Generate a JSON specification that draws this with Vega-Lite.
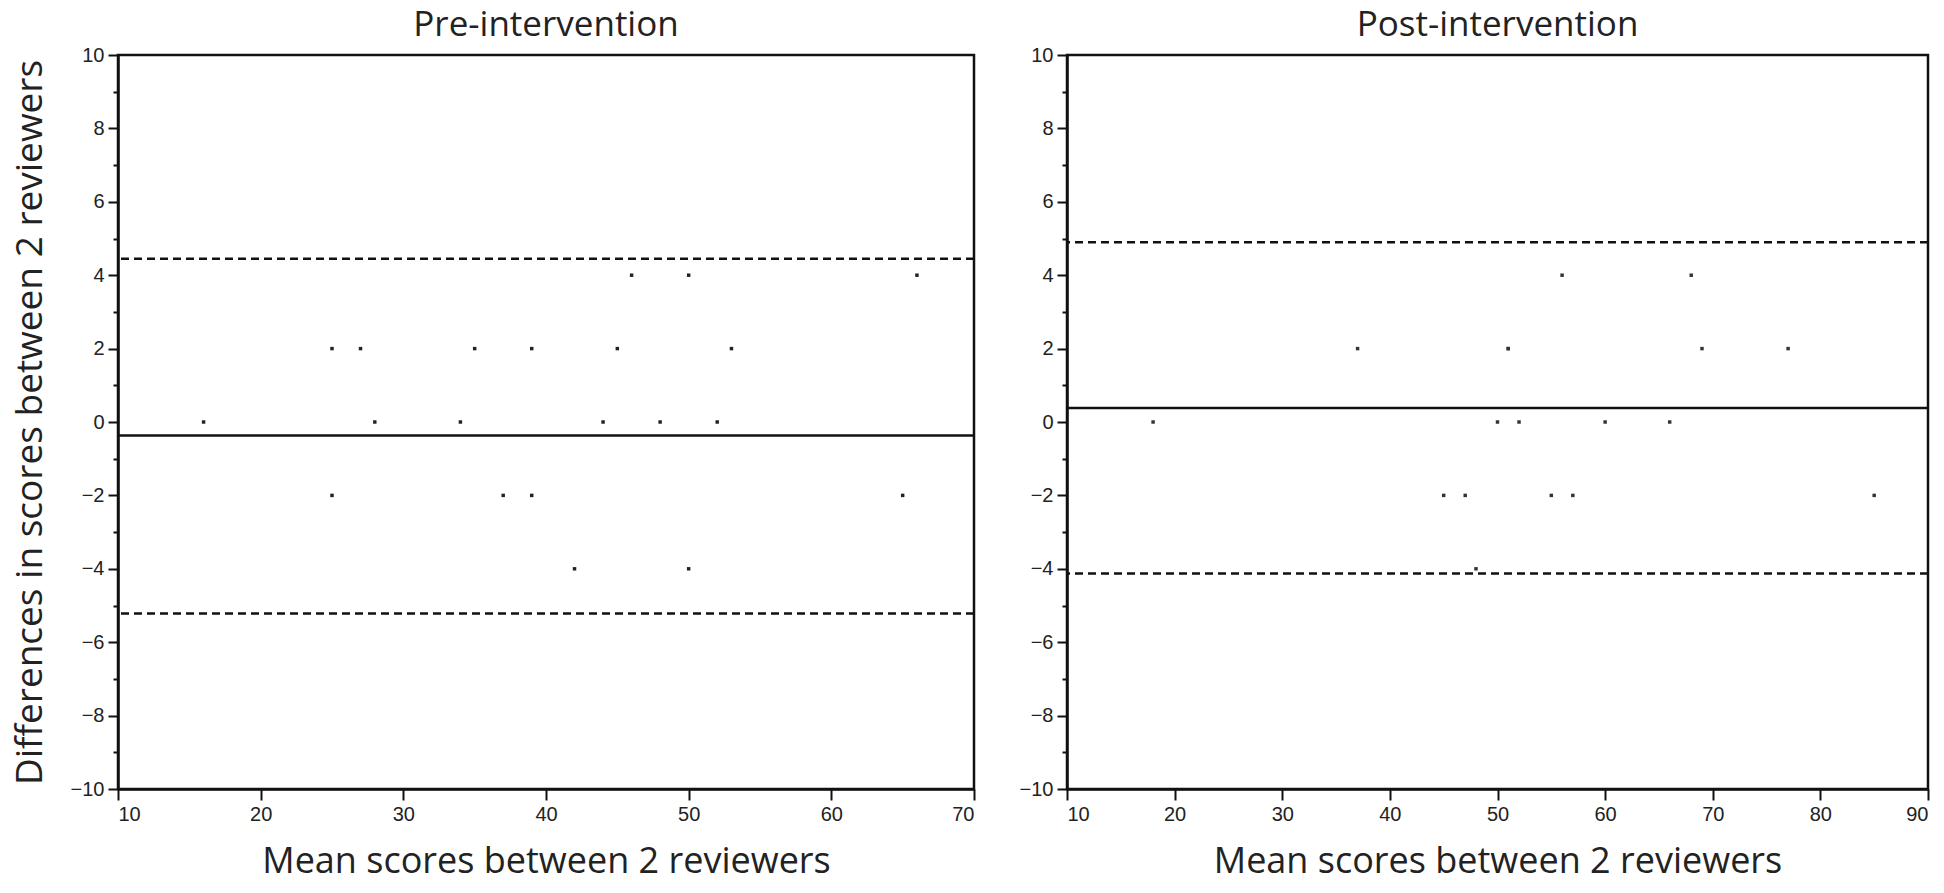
{
  "$schema": "https://vega.github.io/schema/vega-lite/v6.json",
  "padding": {"left": 9, "top": 6, "right": 12, "bottom": 4},
  "background": "white",
  "datasets": {
    "points": [
      {"phase": "Pre", "mean": 46, "diff": 4},
      {"phase": "Pre", "mean": 50, "diff": 4},
      {"phase": "Pre", "mean": 66, "diff": 4},
      {"phase": "Pre", "mean": 25, "diff": 2},
      {"phase": "Pre", "mean": 27, "diff": 2},
      {"phase": "Pre", "mean": 35, "diff": 2},
      {"phase": "Pre", "mean": 39, "diff": 2},
      {"phase": "Pre", "mean": 45, "diff": 2},
      {"phase": "Pre", "mean": 53, "diff": 2},
      {"phase": "Pre", "mean": 16, "diff": 0},
      {"phase": "Pre", "mean": 28, "diff": 0},
      {"phase": "Pre", "mean": 34, "diff": 0},
      {"phase": "Pre", "mean": 44, "diff": 0},
      {"phase": "Pre", "mean": 48, "diff": 0},
      {"phase": "Pre", "mean": 52, "diff": 0},
      {"phase": "Pre", "mean": 25, "diff": -2},
      {"phase": "Pre", "mean": 37, "diff": -2},
      {"phase": "Pre", "mean": 39, "diff": -2},
      {"phase": "Pre", "mean": 65, "diff": -2},
      {"phase": "Pre", "mean": 42, "diff": -4},
      {"phase": "Pre", "mean": 50, "diff": -4},
      {"phase": "Post", "mean": 56, "diff": 4},
      {"phase": "Post", "mean": 68, "diff": 4},
      {"phase": "Post", "mean": 37, "diff": 2},
      {"phase": "Post", "mean": 51, "diff": 2},
      {"phase": "Post", "mean": 51, "diff": 2},
      {"phase": "Post", "mean": 69, "diff": 2},
      {"phase": "Post", "mean": 77, "diff": 2},
      {"phase": "Post", "mean": 18, "diff": 0},
      {"phase": "Post", "mean": 50, "diff": 0},
      {"phase": "Post", "mean": 52, "diff": 0},
      {"phase": "Post", "mean": 60, "diff": 0},
      {"phase": "Post", "mean": 66, "diff": 0},
      {"phase": "Post", "mean": 45, "diff": -2},
      {"phase": "Post", "mean": 47, "diff": -2},
      {"phase": "Post", "mean": 55, "diff": -2},
      {"phase": "Post", "mean": 57, "diff": -2},
      {"phase": "Post", "mean": 85, "diff": -2},
      {"phase": "Post", "mean": 48, "diff": -4}
    ],
    "lines": [
      {"phase": "Pre", "kind": "mean", "value": -0.37},
      {"phase": "Pre", "kind": "limit", "value": 4.45},
      {"phase": "Pre", "kind": "limit", "value": -5.22},
      {"phase": "Post", "kind": "mean", "value": 0.38},
      {"phase": "Post", "kind": "limit", "value": 4.9},
      {"phase": "Post", "kind": "limit", "value": -4.13}
    ]
  },
  "config": {
    "view": {"stroke": "#111", "strokeWidth": 2.5},
    "title": {"font": "Open Sans", "fontSize": 35, "fontWeight": "normal", "color": "#222", "offset": 2, "baseline": "alphabetic", "anchor": "middle"},
    "axis": {
      "grid": false,
      "domainColor": "#111",
      "domainWidth": 2.5,
      "tickColor": "#111",
      "tickWidth": 2,
      "labelFont": "Liberation Sans",
      "labelFontSize": 20,
      "labelColor": "#222",
      "titleFont": "Open Sans",
      "titleFontSize": 36,
      "titleFontWeight": "normal",
      "titleColor": "#222"
    }
  },
  "spacing": 93,
  "bounds": "flush",
  "hconcat": [
    {
      "width": 856,
      "height": 734,
      "title": "Pre-intervention",
      "resolve": {"axis": {"y": "independent"}},
      "layer": [
        {
          "data": {"name": "lines"},
          "transform": [{"filter": "datum.phase === 'Pre' && datum.kind === 'limit'"}],
          "mark": {"type": "rule", "color": "#111", "strokeWidth": 2.5, "strokeDash": [8, 5]},
          "encoding": {
            "y": {"field": "value", "type": "quantitative", "scale": {"domain": [-10, 10], "nice": false, "zero": false},
                  "axis": {"orient": "left", "values": [-9, -7, -5, -3, -1, 1, 3, 5, 7, 9], "labels": false, "domain": false, "tickSize": 5, "title": null}}
          }
        },
        {
          "data": {"name": "lines"},
          "transform": [{"filter": "datum.phase === 'Pre' && datum.kind === 'mean'"}],
          "mark": {"type": "rule", "color": "#111", "strokeWidth": 2.5},
          "encoding": {
            "y": {"field": "value", "type": "quantitative", "axis": null}
          }
        },
        {
          "data": {"name": "points"},
          "transform": [{"filter": "datum.phase === 'Pre'"}],
          "mark": {"type": "point", "shape": "square", "filled": true, "size": 12, "color": "#222", "opacity": 1},
          "encoding": {
            "x": {"field": "mean", "type": "quantitative", "scale": {"domain": [10, 70], "nice": false, "zero": false},
                  "axis": {"values": [10, 20, 30, 40, 50, 60, 70], "tickSize": 11, "labelPadding": 4, "title": "Mean scores between 2 reviewers", "titlePadding": 20}},
            "y": {"field": "diff", "type": "quantitative", "scale": {"domain": [-10, 10], "nice": false, "zero": false},
                  "axis": {"orient": "left", "values": [-10, -8, -6, -4, -2, 0, 2, 4, 6, 8, 10], "tickSize": 10, "labelPadding": 4, "title": "Differences in scores between 2 reviewers", "titleFontSize": 37, "titlePadding": 21}}
          }
        }
      ]
    },
    {
      "width": 861,
      "height": 734,
      "title": "Post-intervention",
      "resolve": {"axis": {"y": "independent"}},
      "layer": [
        {
          "data": {"name": "lines"},
          "transform": [{"filter": "datum.phase === 'Post' && datum.kind === 'limit'"}],
          "mark": {"type": "rule", "color": "#111", "strokeWidth": 2.5, "strokeDash": [8, 5]},
          "encoding": {
            "y": {"field": "value", "type": "quantitative", "scale": {"domain": [-10, 10], "nice": false, "zero": false},
                  "axis": {"orient": "left", "values": [-9, -7, -5, -3, -1, 1, 3, 5, 7, 9], "labels": false, "domain": false, "tickSize": 5, "title": null}}
          }
        },
        {
          "data": {"name": "lines"},
          "transform": [{"filter": "datum.phase === 'Post' && datum.kind === 'mean'"}],
          "mark": {"type": "rule", "color": "#111", "strokeWidth": 2.5},
          "encoding": {
            "y": {"field": "value", "type": "quantitative", "axis": null}
          }
        },
        {
          "data": {"name": "points"},
          "transform": [{"filter": "datum.phase === 'Post'"}],
          "mark": {"type": "point", "shape": "square", "filled": true, "size": 12, "color": "#333", "opacity": 1},
          "encoding": {
            "x": {"field": "mean", "type": "quantitative", "scale": {"domain": [10, 90], "nice": false, "zero": false},
                  "axis": {"values": [10, 20, 30, 40, 50, 60, 70, 80, 90], "tickSize": 11, "labelPadding": 4, "title": "Mean scores between 2 reviewers", "titlePadding": 20}},
            "y": {"field": "diff", "type": "quantitative", "scale": {"domain": [-10, 10], "nice": false, "zero": false},
                  "axis": {"orient": "left", "values": [-10, -8, -6, -4, -2, 0, 2, 4, 6, 8, 10], "tickSize": 10, "labelPadding": 4, "title": null}}
          }
        }
      ]
    }
  ]
}
